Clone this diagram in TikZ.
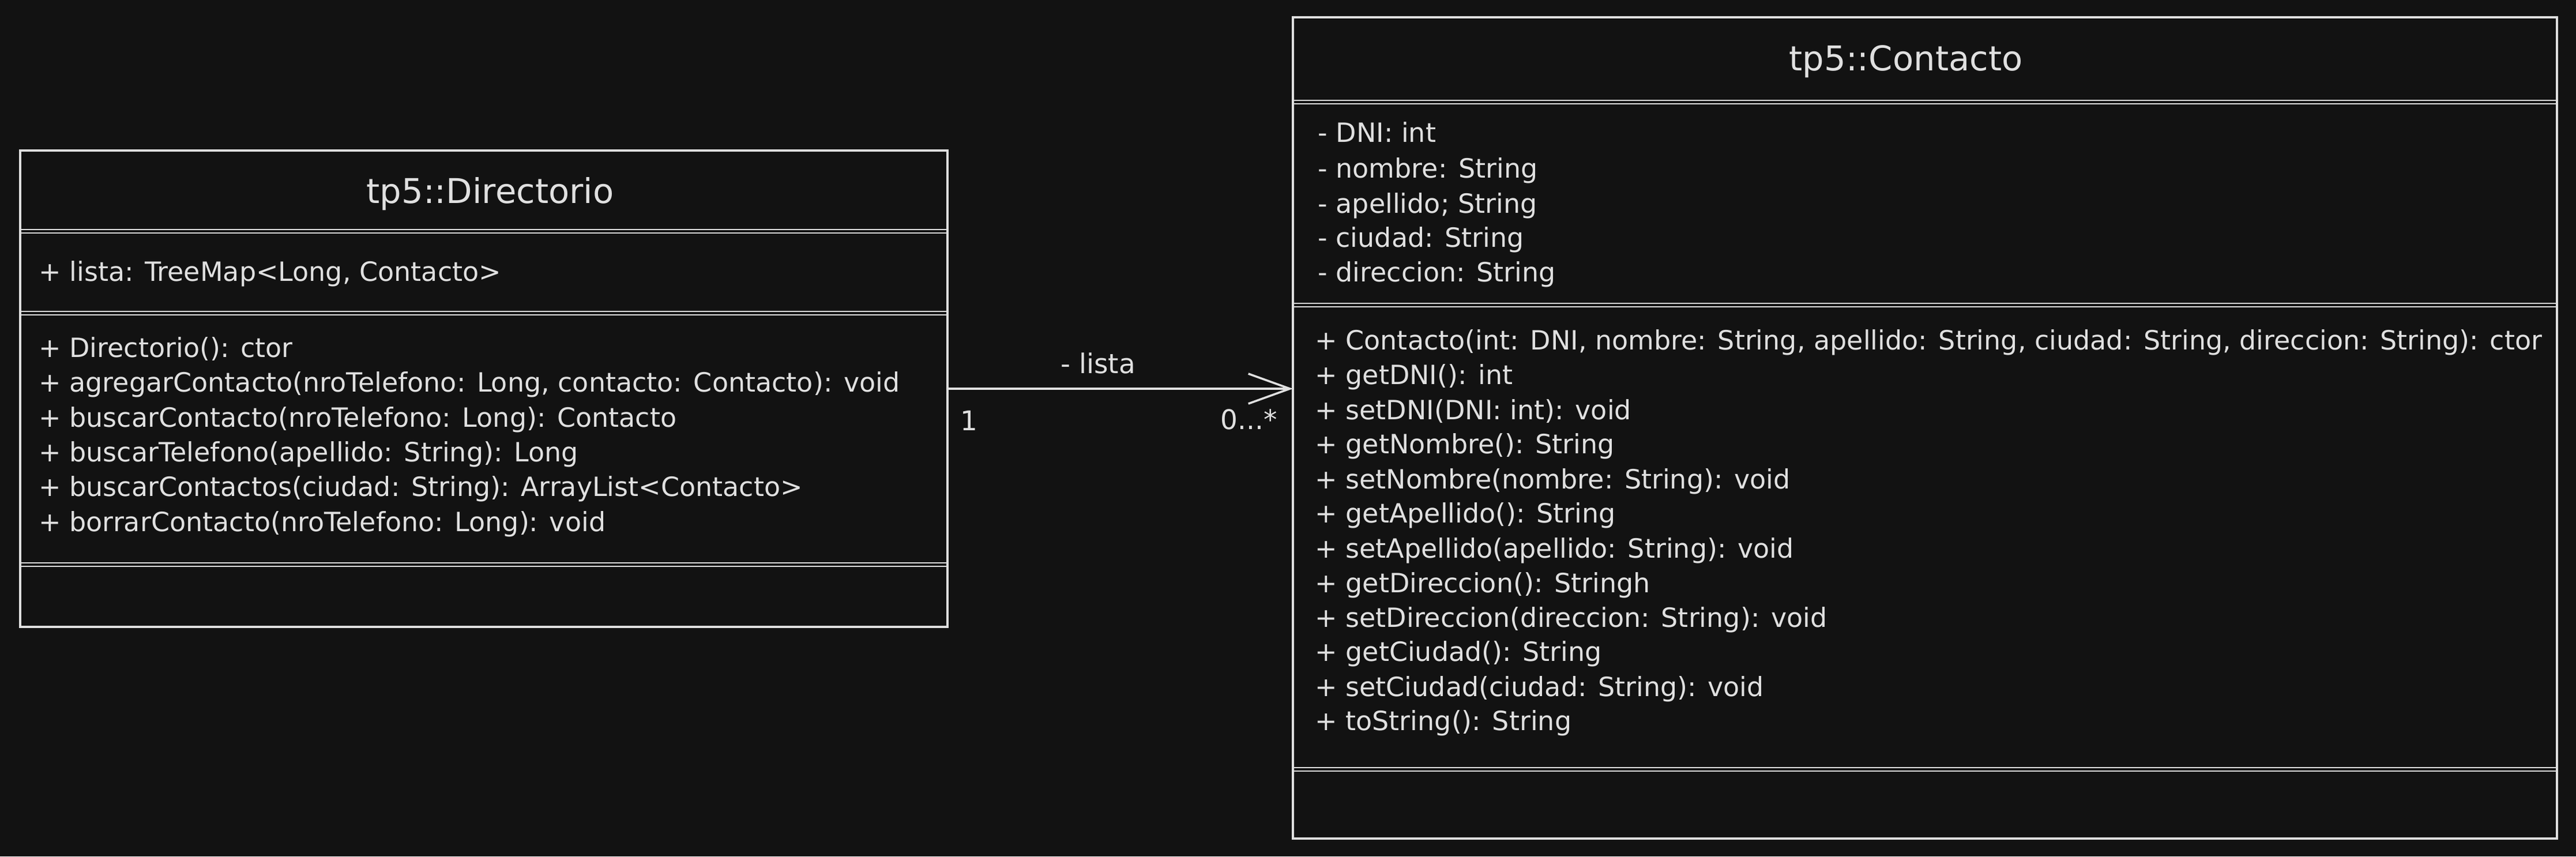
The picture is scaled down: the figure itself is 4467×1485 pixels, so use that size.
\documentclass[tikz,border=0pt]{standalone}
\usepackage{fontspec}
\setmainfont{DejaVu Sans}
\usetikzlibrary{arrows.meta,positioning}
\definecolor{bgc}{RGB}{18,18,18}
\definecolor{ink}{RGB}{224,224,224}
\begin{document}
\begin{tikzpicture}[x=0.5pt,y=-0.5pt,
  umlbox/.style={draw=ink, line width=1.8pt, inner sep=0pt, outer sep=0pt},
  sepline/.style={draw=ink, line width=1.4pt},
  txt/.style={text=ink, inner sep=0pt, anchor=base west, yshift=-2.5pt, font=\fontsize{23}{27}\selectfont},
  ttl/.style={text=ink, inner sep=0pt, anchor=base, yshift=-1.5pt, font=\fontsize{29.6}{34}\selectfont},
  lbl/.style={text=ink, inner sep=0pt, anchor=base, yshift=-2pt, font=\fontsize{23.5}{27}\selectfont},
  assoc/.style={draw=ink, line width=1.8pt, -{Straight Barb[length=36pt,width=26pt,line width=1.8pt]}}]
\fill[bgc] (0,0) rectangle (4467,1485);
\useasboundingbox (0,0) rectangle (4467,1485);

% ---- Directorio box
\node[umlbox, minimum width=804pt, minimum height=413pt] (dir) at (839,674) {};
\draw[sepline] (35,398) -- (1643,398) (35,404) -- (1643,404);
\draw[sepline] (35,540) -- (1643,540) (35,546) -- (1643,546);
\draw[sepline] (35,976) -- (1643,976) (35,982) -- (1643,982);
\node[ttl] (dirT) at (850,349) {tp5::Directorio};
\node[txt] (dirA1) at (67,482) {+ lista: TreeMap<Long, Contacto>};
\node[txt] (dirM1) at (67,614) {+ Directorio(): ctor};
\node[txt] (dirM2) at (67,674) {+ agregarContacto(nroTelefono: Long, contacto: Contacto): void};
\node[txt] (dirM3) at (67,735) {+ buscarContacto(nroTelefono: Long): Contacto};
\node[txt] (dirM4) at (67,795) {+ buscarTelefono(apellido: String): Long};
\node[txt] (dirM5) at (67,855) {+ buscarContactos(ciudad: String): ArrayList<Contacto>};
\node[txt] (dirM6) at (67,916) {+ borrarContacto(nroTelefono: Long): void};

% ---- Contacto box
\node[umlbox, minimum width=1096pt, minimum height=712pt] (con) at (3338,742) {};
\draw[sepline] (2242,174) -- (4434,174) (2242,180) -- (4434,180);
\draw[sepline] (2242,526) -- (4434,526) (2242,532) -- (4434,532);
\draw[sepline] (2242,1331) -- (4434,1331) (2242,1337) -- (4434,1337);
\node[ttl] (conT) at (3305,119) {tp5::Contacto};
\node[txt] (conA1) at (2285,241) {- DNI: int};
\node[txt] (conA2) at (2285,303) {- nombre: String};
\node[txt] (conA3) at (2285,364) {- apellido; String};
\node[txt] (conA4) at (2285,423) {- ciudad: String};
\node[txt] (conA5) at (2285,483) {- direccion: String};
\node[txt] (conM1) at (2280,601) {+ Contacto(int: DNI, nombre: String, apellido: String, ciudad: String, direccion: String): ctor};
\node[txt] (conM2) at (2280,661) {+ getDNI(): int};
\node[txt] (conM3) at (2280,722) {+ setDNI(DNI: int): void};
\node[txt] (conM4) at (2280,781) {+ getNombre(): String};
\node[txt] (conM5) at (2280,842) {+ setNombre(nombre: String): void};
\node[txt] (conM6) at (2280,901) {+ getApellido(): String};
\node[txt] (conM7) at (2280,962) {+ setApellido(apellido: String): void};
\node[txt] (conM8) at (2280,1022) {+ getDireccion(): Stringh};
\node[txt] (conM9) at (2280,1082) {+ setDireccion(direccion: String): void};
\node[txt] (conM10) at (2280,1141) {+ getCiudad(): String};
\node[txt] (conM11) at (2280,1202) {+ setCiudad(ciudad: String): void};
\node[txt] (conM12) at (2280,1261) {+ toString(): String};

% ---- association
\draw[assoc] (dir.east) -- (con.west |- dir.east);
\node[lbl] (lista) at (1904,643) {- lista};
\node[lbl] (m1) at (1680,742) {1};
\node[lbl] (m2) at (2166,740) {0...*};
\end{tikzpicture}
\end{document}
